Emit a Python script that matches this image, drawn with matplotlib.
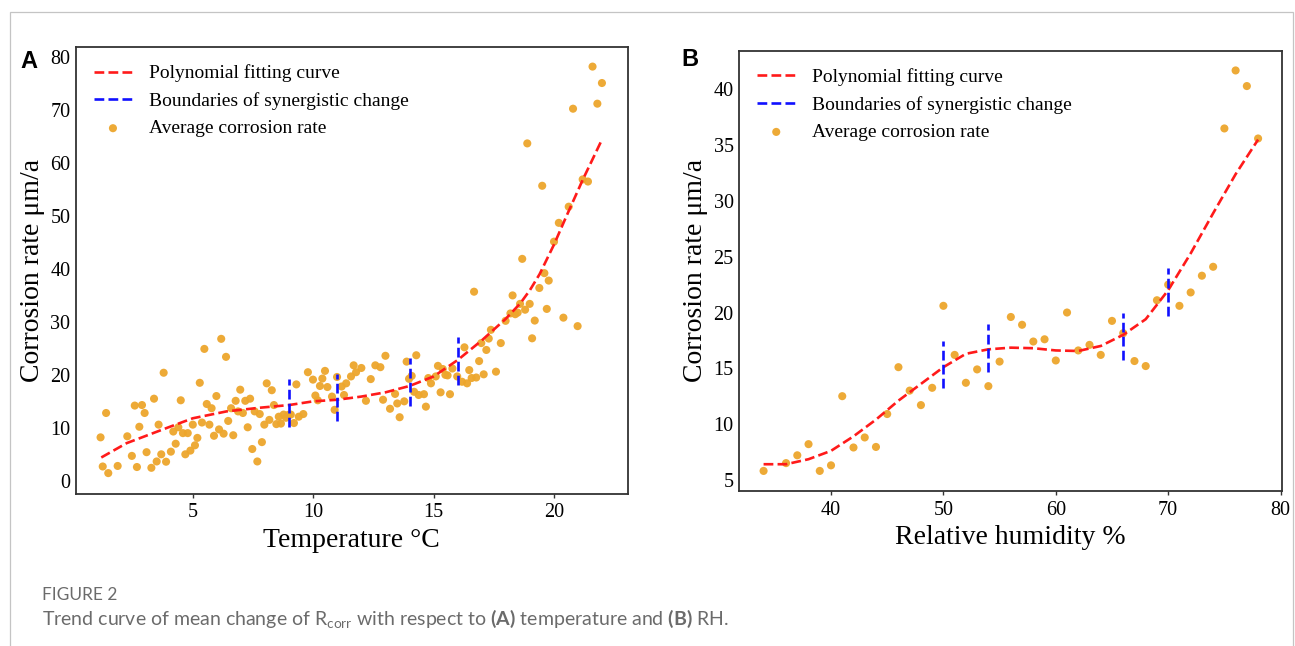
import matplotlib
matplotlib.use("Agg")
import matplotlib.pyplot as plt
from matplotlib.patches import Rectangle

plt.rcParams['font.family'] = ['Liberation Serif', 'DejaVu Serif']
plt.rcParams['mathtext.fontset'] = 'custom'
plt.rcParams['mathtext.rm'] = 'Lato'
plt.rcParams['mathtext.bf'] = 'Lato:bold'

# ---------------- Panel A data (temperature) ----------------
temp_x = [1.17, 1.26, 1.40, 1.49, 1.88, 2.28, 2.47, 2.59, 2.68, 2.78, 2.89, 3.00, 3.08, 3.28, 3.39,
          3.50, 3.58, 3.69, 3.79, 3.89, 4.09, 4.19, 4.29, 4.40, 4.50, 4.59, 4.69, 4.79, 4.90, 5.00,
          5.09, 5.19, 5.29, 5.38, 5.48, 5.58, 5.69, 5.78, 5.88, 5.98, 6.09, 6.18, 6.28, 6.38, 6.47,
          6.59, 6.68, 6.78, 6.88, 6.97, 7.08, 7.18, 7.28, 7.38, 7.47, 7.57, 7.68, 7.78, 7.87, 7.97,
          8.07, 8.18, 8.28, 8.37, 8.47, 8.57, 8.66, 8.77, 8.87, 8.97, 9.07, 9.20, 9.30, 9.40, 9.59,
          9.78, 9.99, 10.09, 10.19, 10.28, 10.38, 10.49, 10.59, 10.78, 10.89, 10.99, 11.18, 11.28, 11.37, 11.57,
          11.68, 11.78, 12.00, 12.19, 12.39, 12.58, 12.79, 12.90, 13.00, 13.19, 13.40, 13.49, 13.59, 13.78, 13.88,
          13.98, 14.09, 14.19, 14.28, 14.38, 14.60, 14.68, 14.78, 14.89, 15.09, 15.18, 15.29, 15.38, 15.49, 15.58,
          15.68, 15.78, 15.98, 16.18, 16.28, 16.39, 16.48, 16.58, 16.68, 16.77, 16.89, 16.98, 17.08, 17.19, 17.29,
          17.38, 17.59, 17.79, 17.99, 18.19, 18.28, 18.39, 18.49, 18.59, 18.68, 18.80, 18.89, 18.99, 19.09, 19.20,
          19.39, 19.51, 19.60, 19.70, 19.78, 20.00, 20.20, 20.39, 20.61, 20.79, 20.98, 21.19, 21.41, 21.60, 21.80,
          21.99]
temp_y = [8.2, 2.7, 12.8, 1.45, 2.8, 8.4, 4.7, 14.2, 2.6, 10.2, 14.3, 12.8, 5.4, 2.45, 15.5,
          3.65, 10.6, 5.0, 20.4, 3.6, 5.5, 9.3, 7.0, 10.1, 15.2, 9.0, 5.0, 9.0, 5.7, 10.6,
          6.7, 8.1, 18.5, 11.0, 24.9, 14.5, 10.6, 13.7, 8.5, 16.0, 9.7, 26.8, 8.9, 23.4, 11.3,
          13.7, 8.6, 15.1, 13.1, 17.2, 12.8, 15.1, 10.1, 15.5, 6.0, 13.1, 3.65, 12.6, 7.3, 10.6,
          18.4, 11.5, 17.1, 14.3, 10.7, 12.1, 10.8, 12.5, 11.9, 12.45, 12.5, 10.9, 18.2, 12.1, 12.6,
          20.5, 19.1, 16.1, 15.2, 17.9, 19.3, 20.75, 17.7, 15.9, 13.4, 19.6, 17.8, 16.2, 18.4, 19.7,
          21.8, 20.5, 21.3, 15.1, 19.2, 21.8, 21.45, 15.3, 23.6, 13.6, 16.4, 14.6, 12.0, 15.0, 22.5,
          19.25, 19.8, 16.8, 23.7, 16.2, 16.35, 14.0, 19.4, 18.4, 19.7, 21.7, 16.7, 21.1, 20.0, 19.9,
          16.35, 21.2, 19.7, 18.7, 25.2, 18.4, 20.9, 19.4, 35.7, 19.5, 22.6, 26.0, 20.1, 24.7, 26.85,
          28.5, 20.6, 26.0, 30.2, 31.6, 35.0, 31.45, 31.75, 33.4, 41.9, 32.3, 63.7, 33.4, 26.9, 30.25,
          36.4, 55.7, 39.2, 32.45, 37.8, 45.15, 48.7, 30.8, 51.75, 70.25, 29.2, 56.9, 56.5, 78.2, 71.2,
          75.1]

# polynomial fitting curve
temp_fit_x = [1.2, 2.25, 4.05, 5.0, 6.4, 7.8, 9.0, 10.0, 11.0, 12.0, 13.0, 14.0, 15.0, 16.0,
              17.0, 18.0, 18.6, 19.0, 19.4, 20.0, 20.5, 21.2, 22.0]
temp_fit_y = [4.4, 7.1, 10.2, 11.8, 13.1, 13.8, 14.3, 15.0, 15.3, 15.9, 16.7, 17.9, 19.7, 22.8,
              26.5, 30.6, 33.5, 36.0, 39.0, 44.6, 49.8, 56.9, 64.5]

temp_bound_x = [9, 11, 14, 16]
temp_bound_lo = [10.1, 11.2, 14.15, 18.1]
temp_bound_hi = [19.2, 20.1, 23.15, 27.1]

# ---------------- Panel B data (relative humidity) ----------------
rh_x = [34, 36, 37, 38, 39, 40, 41, 42, 43, 44, 45, 46, 47, 48, 49, 50, 51, 52, 53, 54, 55, 56,
        57, 58, 59, 60, 61, 62, 63, 64, 65, 66, 67, 68, 69, 70, 71, 72, 73, 74, 75, 76, 77, 78]
rh_y = [5.8, 6.5, 7.2, 8.2, 5.8, 6.3, 12.5, 7.9, 8.8, 7.95, 10.9, 15.1, 13.0, 11.7, 13.25, 20.6,
        16.2, 13.7, 14.9, 13.4, 15.6, 19.6, 18.9, 17.4, 17.6, 15.7, 20.0, 16.6, 17.1, 16.2, 19.25,
        18.15, 15.65, 15.2, 21.1, 22.5, 20.6, 21.8, 23.3, 24.1, 36.5, 41.7, 40.3, 35.6]

rh_fit_x = [34, 36, 38, 40, 42, 44, 46, 48, 50, 52, 54, 56, 58, 60, 62, 64, 66, 68, 70, 72, 74, 76, 78]
rh_fit_y = [6.4, 6.4, 6.85, 7.6, 8.9, 10.4, 12.1, 13.6, 15.1, 16.3, 16.7, 16.85, 16.8, 16.6,
            16.55, 17.0, 18.0, 19.4, 22.0, 25.3, 28.9, 32.4, 35.5]

rh_bound_x = [50, 54, 66, 70]
rh_bound_lo = [13.2, 14.7, 15.7, 19.65]
rh_bound_hi = [17.45, 19.0, 20.0, 24.0]

legend_labels = ["Polynomial fitting curve", "Boundaries of synergistic change",
                 "Average corrosion rate"]

DOT = '#EDA62C'
W, H = 1295, 646
fig = plt.figure(figsize=(W / 100, H / 100), dpi=100)

# outer light frame
fig.add_artist(Rectangle((10 / W, -0.02), (1293 - 10) / W, 1 - 12 / H + 0.02,
                         transform=fig.transFigure, fill=False, edgecolor='#c4c4c4', lw=0.9))


def style(ax):
    for s in ax.spines.values():
        s.set_color('#333333')
        s.set_linewidth(1.3)
    ax.tick_params(axis='x', direction='out', length=3, width=1.0, labelsize=14.5, pad=4,
                   color='#333333')
    ax.tick_params(axis='y', length=0, labelsize=14.5, pad=4)


def panel(ax, x, y, fx, fy, bx, blo, bhi):
    ax.plot(fx, fy, color='#ff1a1a', ls='--', lw=1.9, label=legend_labels[0], zorder=3)
    for i, (b, lo, hi) in enumerate(zip(bx, blo, bhi)):
        ax.plot([b, b], [lo, hi], color='#1010ff', ls='--', lw=1.9,
                label=legend_labels[1] if i == 0 else None, zorder=4)
    ax.scatter(x, y, s=34, color=DOT, alpha=0.95, edgecolors='none',
               label=legend_labels[2], zorder=2)
    ax.legend(loc='upper left', frameon=False, fontsize=14, handlelength=2.0,
              handletextpad=0.85, labelspacing=0.5, borderaxespad=0.5, borderpad=0.4)
    style(ax)


axA = fig.add_axes([76 / W, 1 - 493.5 / H, (627.7 - 76) / W, (493.5 - 47) / H])
panel(axA, temp_x, temp_y, temp_fit_x, temp_fit_y, temp_bound_x, temp_bound_lo, temp_bound_hi)
axA.set_xlim(0.15, 23.06)
axA.set_ylim(-2.4, 81.9)
axA.set_xticks([5, 10, 15, 20])
axA.set_yticks(range(0, 81, 10))
axA.set_xlabel("Temperature °C", fontsize=20, labelpad=4)
axA.set_ylabel("Corrosion rate μm/a", fontsize=20, labelpad=4)

axB = fig.add_axes([739.3 / W, 1 - 491 / H, (1281.7 - 739.3) / W, (491 - 50.7) / H])
panel(axB, rh_x, rh_y, rh_fit_x, rh_fit_y, rh_bound_x, rh_bound_lo, rh_bound_hi)
axB.set_xlim(31.84, 80.1)
axB.set_ylim(4.0, 43.47)
axB.set_xticks([40, 50, 60, 70, 80])
axB.set_yticks(range(5, 41, 5))
axB.set_xlabel("Relative humidity %", fontsize=20, labelpad=4)
axB.set_ylabel("Corrosion rate μm/a", fontsize=20, labelpad=4)

# panel letters
fig.text(20 / W, 1 - 61 / H, "A", fontsize=17, fontweight='bold',
         family='Liberation Sans', va='center', ha='left')
fig.text(681 / W, 1 - 60 / H, "B", fontsize=17, fontweight='bold',
         family='Liberation Sans', va='center', ha='left')

# caption
fig.text(42 / W, 1 - 595 / H, "FIGURE 2", fontsize=12.5, family='Lato', color='#6b6b6b',
         va='center', ha='left')
fig.text(42 / W, 1 - 619 / H,
         r"Trend curve of mean change of R$_{\mathrm{corr}}$ with respect to $\mathbf{(A)}$ "
         r"temperature and $\mathbf{(B)}$ RH.",
         fontsize=14, family='Lato', color='#6b6b6b', va='center', ha='left')

fig.savefig("out.png", dpi=100)
